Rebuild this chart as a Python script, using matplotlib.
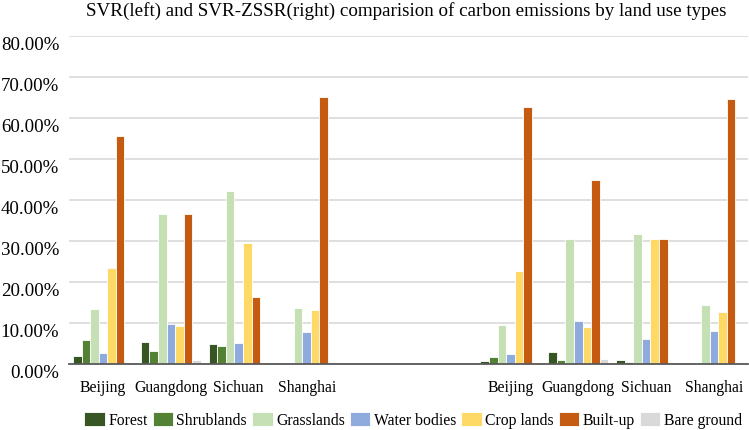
import numpy as np
import matplotlib
matplotlib.use("Agg")
import matplotlib.pyplot as plt
import matplotlib.transforms as mtransforms
from matplotlib.ticker import PercentFormatter

plt.rcParams["font.family"] = ["Liberation Serif", "DejaVu Serif"]

# categories: left half SVR, right half SVR-ZSSR, two empty slots between
categories = ["Beijing", "Guangdong", "Sichuan", "Shanghai", "", "",
              "Beijing", "Guangdong", "Sichuan", "Shanghai"]

land_types = ["Forest", "Shrublands", "Grasslands", "Water bodies",
              "Crop lands", "Built-up", "Bare ground"]
colors = ["#375623", "#548235", "#C5E0B4", "#8FAADC",
          "#FFD966", "#C55A11", "#D9D9D9"]

# values in percent, one list per land use type (nan = empty slot)
forest = [1.9, 5.4, 4.9, 0.0, np.nan, np.nan, 0.8, 2.9, 0.9, 0.0]
shrublands = [5.8, 3.2, 4.3, 0.0, np.nan, np.nan, 1.8, 0.9, 0.5, 0.0]
grasslands = [13.5, 36.5, 42.1, 13.6, np.nan, np.nan, 9.6, 30.5, 31.7, 14.3]
water_bodies = [2.75, 9.8, 5.2, 7.7, np.nan, np.nan, 2.5, 10.6, 6.0, 8.0]
crop_lands = [23.5, 9.2, 29.6, 13.2, np.nan, np.nan, 22.7, 9.1, 30.5, 12.7]
built_up = [55.6, 36.5, 16.3, 65.1, np.nan, np.nan, 62.6, 44.8, 30.4, 64.5]
bare_ground = [0.1, 1.0, 0.1, 0.5, np.nan, np.nan, 0.0, 1.2, 0.0, 0.5]

series = [forest, shrublands, grasslands, water_bodies,
          crop_lands, built_up, bare_ground]


def main():
    fig = plt.figure(figsize=(7.49, 4.31), dpi=100)
    ax = fig.add_axes([0.0921, 0.1531, 0.9066, 0.7618])

    x = np.arange(len(categories))
    group = 0.88
    width = group / len(series)

    for i, (vals, name, col) in enumerate(zip(series, land_types, colors)):
        offs = -group / 2 + width * (i + 0.5)
        ax.bar(x + offs, np.array(vals) / 100, width, color=col,
               edgecolor="white", linewidth=0.6, label=name, zorder=3)

    ax.set_xlim(-0.5, len(categories) - 0.5)
    ax.set_ylim(0, 0.8)
    ax.set_yticks(np.arange(0, 0.81, 0.1))
    ax.yaxis.set_major_formatter(PercentFormatter(1.0, decimals=2))
    ax.set_xticks(x)
    ax.set_xticklabels(categories)
    ax.tick_params(axis="both", length=0)
    ax.tick_params(axis="y", pad=7, labelsize=13.6)
    ax.tick_params(axis="x", pad=10.5, labelsize=11.3)

    # Excel puts the value labels a little below their gridlines
    shift = mtransforms.ScaledTranslation(0, -0.065, fig.dpi_scale_trans)
    for lbl in ax.get_yticklabels():
        lbl.set_transform(lbl.get_transform() + shift)

    ax.grid(axis="y", color="#D9D9D9", linewidth=1.2, zorder=0)
    for side in ["top", "right", "left"]:
        ax.spines[side].set_visible(False)
    ax.spines["bottom"].set_color("#595959")
    ax.spines["bottom"].set_linewidth(1.3)
    ax.spines["bottom"].set_zorder(4)

    fig.text(0.543, 0.9636,
             "SVR(left) and SVR-ZSSR(right) comparision of carbon emissions by land use types",
             ha="center", va="baseline", fontsize=13.7)

    fig.legend(loc="center", bbox_to_anchor=(0.5514, 0.023), ncol=7,
               frameon=False, fontsize=11.3, handlelength=1.31,
               handleheight=1.0, handletextpad=0.21, columnspacing=0.32,
               borderpad=0, borderaxespad=0)

    fig.savefig("out.png", dpi=100)


if __name__ == "__main__":
    main()
